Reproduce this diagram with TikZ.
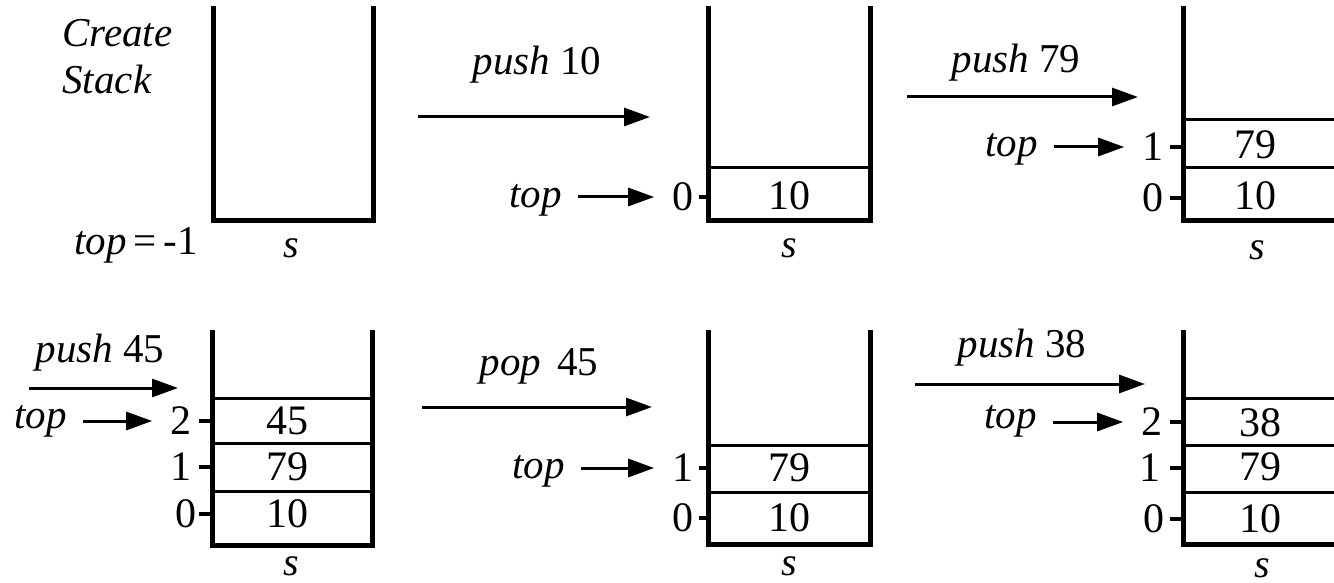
\documentclass[tikz,border=0pt]{standalone}
\usepackage{fontspec}
\setmainfont{Liberation Serif}
\usetikzlibrary{arrows.meta}

\tikzset{
  wall/.style={line width=2.5pt},
  cellline/.style={line width=1.5pt},
  tick/.style={line width=1.8pt},
  oparrow/.style={line width=1.5pt,-{Triangle[length=13pt,width=9pt]}},
  toparrow/.style={oparrow,shorten <=8pt,shorten >=9pt},
  lbl/.style={inner sep=0pt,font=\fontsize{20.5}{23.5}\selectfont},
  val/.style={inner sep=0pt,font=\fontsize{21}{23}\selectfont},
  idx/.style={inner sep=0pt,anchor=east,font=\fontsize{21}{23}\selectfont},
  sname/.style={inner sep=0pt,anchor=base,font=\fontsize{20}{22}\selectfont\itshape},
}

\begin{document}
\begin{tikzpicture}[x=0.5pt,y=-0.5pt]
  \useasboundingbox (0,0) rectangle (1334,583);
  \clip (0,0) rectangle (1334,583);
  \fill[white] (0,0) rectangle (1334,583);

  % empty stack
  \node[lbl,align=left,anchor=north west] (create) at (62,19) {\textit{Create}\\\textit{Stack}};
  \draw[wall] (213,6) -- (213,220) -- (373,220) -- (373,6);
  \node[lbl,anchor=base east] (topa) at (198,255) {\textit{top}\,=\,-1};
  \node[sname] (sa) at (291,257) {s};

  % push 10
  \coordinate (p1s) at (418,117);
  \coordinate (p1e) at (650,117);
  \draw[oparrow] (p1s) -- (p1e);
  \node[lbl,anchor=base] (push1) at (537,75) {\textit{push} 10};

  \draw[wall] (708,6) -- (708,220) -- (870,220) -- (870,6);
  \draw[cellline] (708,168) -- (870,168);
  \node[val] (b0) at (789,196) {10};
  \node[idx] (bi0) at (694,197) {0};
  \draw[tick] (699,197) -- (708,197);
  \node[lbl,anchor=base east] (topb) at (562,207) {\textit{top}};
  \draw[toparrow] (topb.east |- bi0.west) -- (bi0.west);
  \node[sname] (sb) at (789,257) {s};

  % push 79
  \coordinate (p2s) at (907,97);
  \coordinate (p2e) at (1138,97);
  \draw[oparrow] (p2s) -- (p2e);
  \node[lbl,anchor=base] (push2) at (1016,73) {\textit{push} 79};

  \draw[wall] (1183,6) -- (1183,220) -- (1345,220) -- (1345,6);
  \draw[cellline] (1183,168) -- (1345,168);
  \draw[cellline] (1183,120) -- (1345,120);
  \node[val] (c0) at (1255,196) {10};
  \node[val] (c1) at (1255,145) {79};
  \node[idx] (ci0) at (1164,198) {0};
  \node[idx] (ci1) at (1164,147) {1};
  \draw[tick] (1170,198) -- (1183,198);
  \draw[tick] (1170,147) -- (1183,147);
  \node[lbl,anchor=base east] (topc) at (1038,156) {\textit{top}};
  \draw[toparrow] (topc.east |- ci1.west) -- (ci1.west);
  \node[sname] (sc) at (1257,259) {s};

  % push 45
  \coordinate (p3s) at (29,388);
  \coordinate (p3e) at (178,388);
  \draw[oparrow] (p3s) -- (p3e);
  \node[lbl,anchor=base] (push3) at (100,362) {\textit{push} 45};

  \draw[wall] (212,330) -- (212,545) -- (372,545) -- (372,330);
  \draw[cellline] (212,398) -- (372,398);
  \draw[cellline] (212,443) -- (372,443);
  \draw[cellline] (212,491) -- (372,491);
  \node[val] (d2) at (287,421) {45};
  \node[val] (d1) at (287,467) {79};
  \node[val] (d0) at (287,514) {10};
  \node[idx] (di2) at (192,421) {2};
  \node[idx] (di1) at (192,467) {1};
  \node[idx] (di0) at (197,514) {0};
  \draw[tick] (199,421) -- (212,421);
  \draw[tick] (199,467) -- (212,467);
  \draw[tick] (199,514) -- (212,514);
  \node[lbl,anchor=base east] (topd) at (67,428) {\textit{top}};
  \draw[toparrow] (topd.east |- di2.west) -- (di2.west);
  \node[sname] (sd) at (291,575) {s};

  % pop 45
  \coordinate (p4s) at (422,407);
  \coordinate (p4e) at (652,407);
  \draw[oparrow] (p4s) -- (p4e);
  \node[lbl,anchor=base] (pop4) at (539,375) {\textit{pop}\hspace{0.4em}45};

  \draw[wall] (708,330) -- (708,544) -- (870,544) -- (870,330);
  \draw[cellline] (708,445) -- (870,445);
  \draw[cellline] (708,492) -- (870,492);
  \node[val] (e1) at (789,468) {79};
  \node[val] (e0) at (789,518) {10};
  \node[idx] (ei1) at (694,468) {1};
  \node[idx] (ei0) at (694,518) {0};
  \draw[tick] (699,468) -- (708,468);
  \draw[tick] (699,518) -- (708,518);
  \node[lbl,anchor=base east] (tope) at (565,478) {\textit{top}};
  \draw[toparrow] (tope.east |- ei1.west) -- (ei1.west);
  \node[sname] (se) at (789,575) {s};

  % push 38
  \coordinate (p5s) at (915,384);
  \coordinate (p5e) at (1145,384);
  \draw[oparrow] (p5s) -- (p5e);
  \node[lbl,anchor=base] (push5) at (1022,357) {\textit{push} 38};

  \draw[wall] (1183,330) -- (1183,544) -- (1345,544) -- (1345,330);
  \draw[cellline] (1183,398) -- (1345,398);
  \draw[cellline] (1183,445) -- (1345,445);
  \draw[cellline] (1183,492) -- (1345,492);
  \node[val] (f2) at (1260,423) {38};
  \node[val] (f1) at (1260,467) {79};
  \node[val] (f0) at (1260,519) {10};
  \node[idx] (fi2) at (1163,422) {2};
  \node[idx] (fi1) at (1161,468) {1};
  \node[idx] (fi0) at (1165,519) {0};
  \draw[tick] (1170,422) -- (1183,422);
  \draw[tick] (1170,468) -- (1183,468);
  \draw[tick] (1170,519) -- (1183,519);
  \node[lbl,anchor=base east] (topf) at (1037,428) {\textit{top}};
  \draw[toparrow] (topf.east |- fi2.west) -- (fi2.west);
  \node[sname] (sf) at (1262,577) {s};
\end{tikzpicture}
\end{document}
